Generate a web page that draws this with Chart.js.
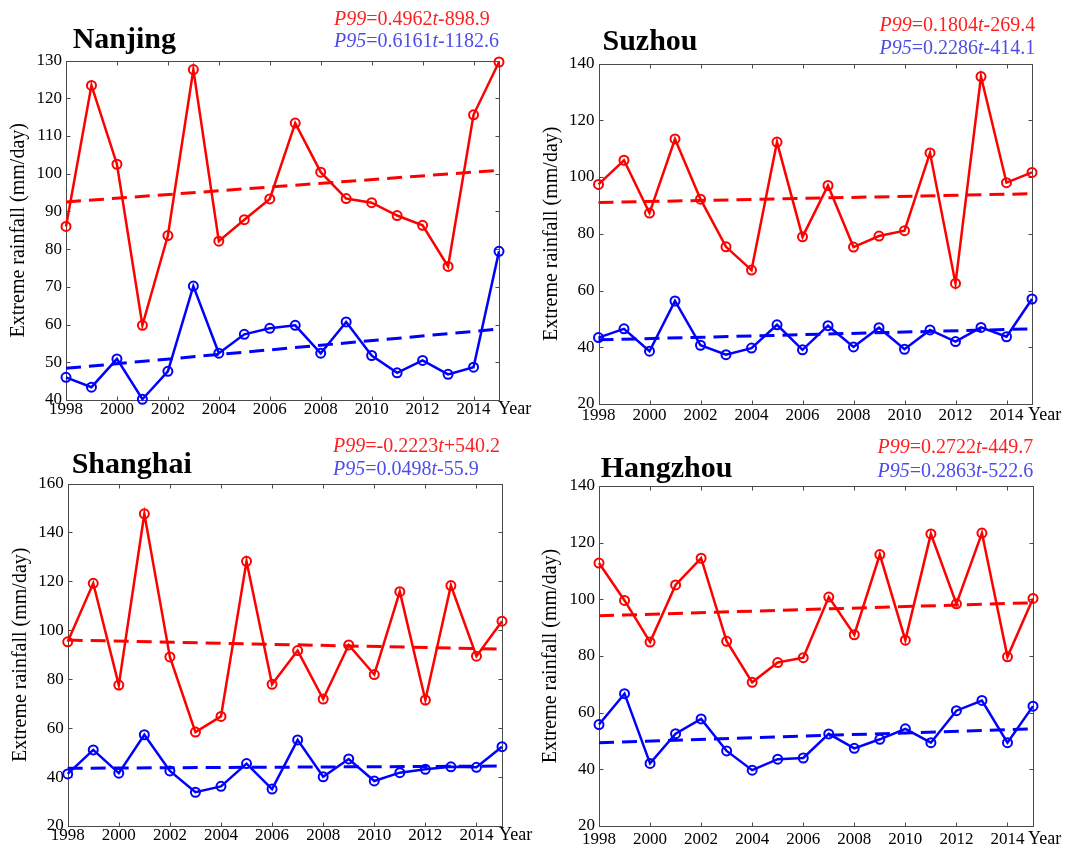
<!DOCTYPE html>
<html><head><meta charset="utf-8">
<script src="https://cdn.jsdelivr.net/npm/chart.js@4.4.1/dist/chart.umd.min.js"></script>
<style>
html,body{margin:0;padding:0;background:#fff;}
#wrap{position:relative;width:1073px;height:852px;overflow:hidden;font-family:"Liberation Serif","Times New Roman",serif;color:#000;}
canvas.pc{position:absolute;}
.txt{position:absolute;white-space:nowrap;line-height:1;}
.ttl{font-weight:bold;font-size:30px;}
.eq{font-size:20px;}
.yr{font-size:18px;}
.red{color:#ff1f1f;} .blue{color:#4d4de8;}
</style></head><body><div id="wrap"></div>
<script>
// ---------------- DATA ----------------
const years = [1998,1999,2000,2001,2002,2003,2004,2005,2006,2007,2008,2009,2010,2011,2012,2013,2014,2015];
const xTickValues = [1998,2000,2002,2004,2006,2008,2010,2012,2014];
const trendYears = [1998,2015];

const nanjingP99 = [86.0,123.4,102.5,59.8,83.6,127.6,82.1,87.8,93.3,113.4,100.4,93.4,92.3,88.9,86.3,75.4,115.6,129.6];
const nanjingP95 = [46.0,43.4,50.9,40.2,47.6,70.2,52.4,57.4,59.0,59.8,52.4,60.7,51.8,47.2,50.5,46.8,48.7,79.4];
const nanjingTrend99 = [92.5,100.9];
const nanjingTrend95 = [48.4,58.8];
const nanjingYTicks = [40,50,60,70,80,90,100,110,120,130];

const suzhouP99 = [97.4,105.9,87.3,113.4,92.2,75.4,67.2,112.3,78.9,97.0,75.3,79.2,81.1,108.5,62.5,135.4,98.0,101.6];
const suzhouP95 = [43.4,46.5,38.6,56.3,40.7,37.4,39.7,47.9,39.1,47.6,40.1,46.9,39.3,46.1,42.0,47.0,43.7,57.0];
const suzhouTrend99 = [91.0,94.1];
const suzhouTrend95 = [42.6,46.5];
const suzhouYTicks = [20,40,60,80,100,120,140];

const shanghaiP99 = [95.3,119.2,77.6,147.6,89.1,58.4,64.8,128.2,77.9,91.7,71.9,94.0,81.9,115.8,71.5,118.3,89.4,103.7];
const shanghaiP95 = [41.3,51.1,41.6,57.3,42.5,33.8,36.2,45.5,35.1,55.2,40.1,47.4,38.4,41.8,43.2,44.2,44.0,52.4];
const shanghaiTrend99 = [96.0,92.3];
const shanghaiTrend95 = [43.6,44.5];
const shanghaiYTicks = [20,40,60,80,100,120,140,160];

const hangzhouP99 = [112.8,99.6,84.9,105.1,114.5,85.2,70.7,77.7,79.4,100.8,87.5,115.8,85.6,123.1,98.4,123.4,79.7,100.3];
const hangzhouP95 = [55.8,66.7,42.1,52.6,57.8,46.5,39.7,43.6,44.0,52.5,47.4,50.6,54.3,49.4,60.7,64.3,49.4,62.3];
const hangzhouTrend99 = [94.2,98.8];
const hangzhouTrend95 = [49.4,54.3];
const hangzhouYTicks = [20,40,60,80,100,120,140];

const cities = ['Nanjing','Suzhou','Shanghai','Hangzhou'];
const eq99 = [['0.4962','-898.9'],['0.1804','-269.4'],['-0.2223','+540.2'],['0.2722','-449.7']];
const eq95 = [['0.6161','-1182.6'],['0.2286','-414.1'],['0.0498','-55.9'],['0.2863','-522.6']];
const yTitle = 'Extreme rainfall (mm/day)';
const xUnit = 'Year';

// ---------------- LAYOUT ----------------
const FONT = '"Liberation Serif","Times New Roman",serif';
const RED = '#ff0000', BLUE = '#0000ff';
const panels = [
  {p99:nanjingP99, p95:nanjingP95, t99:nanjingTrend99, t95:nanjingTrend95, yt:nanjingYTicks,
   cx:0, cy:0, area:{l:66,r:499,t:60.5,b:400}, xPad:-1, yTitlePad:7,
   title:{x:72.7,b:48}, eq:{x:334,b1:25,b2:46.7}, yr:{x:498,b:414}},
  {p99:suzhouP99, p95:suzhouP95, t99:suzhouTrend99, t95:suzhouTrend95, yt:suzhouYTicks,
   cx:536, cy:0, area:{l:62.5,r:496,t:63.5,b:404}, xPad:1, yTitlePad:4,
   title:{x:602.5,b:50}, eq:{x:879.5,b1:30.7,b2:54}, yr:{x:1028,b:420}},
  {p99:shanghaiP99, p95:shanghaiP95, t99:shanghaiTrend99, t95:shanghaiTrend95, yt:shanghaiYTicks,
   cx:0, cy:426, area:{l:67.7,r:502,t:57.5,b:400}, xPad:-1, yTitlePad:9,
   title:{x:71.7,b:473}, eq:{x:333,b1:451.7,b2:475}, yr:{x:499,b:840}},
  {p99:hangzhouP99, p95:hangzhouP95, t99:hangzhouTrend99, t95:hangzhouTrend95, yt:hangzhouYTicks,
   cx:536, cy:426, area:{l:63,r:497,t:60,b:400}, xPad:3, yTitlePad:3,
   title:{x:600.7,b:477}, eq:{x:877.5,b1:453,b2:477}, yr:{x:1028,b:844}}
];
const CW = 536, CH = 426;

const wrap = document.getElementById('wrap');
function addText(cls, html, x, baseline, size){
  const d = document.createElement('div');
  d.className = 'txt ' + cls;
  d.innerHTML = html;
  d.style.left = x + 'px';
  d.style.top = (baseline - 0.8375*size) + 'px';
  wrap.appendChild(d);
}

const framePlugin = {
  id:'frame',
  beforeDatasetsDraw(chart){
    const {ctx, chartArea:a, scales:{x, y}} = chart;
    const L = Math.round(a.left)+0.5, R = Math.round(a.right)+0.5, T = Math.round(a.top)+0.5, B = Math.round(a.bottom)+0.5;
    ctx.save();
    ctx.strokeStyle = '#4a4a4a'; ctx.lineWidth = 1;
    ctx.strokeRect(L, T, R-L, B-T);
    const tl = 4;
    ctx.beginPath();
    x.ticks.forEach(t=>{
      const px = Math.round(x.getPixelForValue(t.value))+0.5;
      ctx.moveTo(px, B); ctx.lineTo(px, B-tl);
      ctx.moveTo(px, T); ctx.lineTo(px, T+tl);
    });
    y.ticks.forEach(t=>{
      const py = Math.round(y.getPixelForValue(t.value))+0.5;
      ctx.moveTo(L, py); ctx.lineTo(L+tl, py);
      ctx.moveTo(R, py); ctx.lineTo(R-tl, py);
    });
    ctx.stroke();
    ctx.restore();
  }
};

function pts(xs, ys){ return xs.map((v,i)=>({x:v, y:ys[i]})); }

panels.forEach((p, i)=>{
  const cv = document.createElement('canvas');
  cv.className = 'pc';
  cv.width = CW; cv.height = CH;
  cv.style.left = p.cx + 'px'; cv.style.top = p.cy + 'px';
  cv.style.width = CW + 'px'; cv.style.height = CH + 'px';
  wrap.appendChild(cv);
  const a = p.area;
  const series = (data, col) => ({
    data, borderColor:col, borderWidth:2.5, pointStyle:'circle', pointRadius:4.5,
    pointBorderWidth:2, pointBorderColor:col, pointBackgroundColor:'rgba(0,0,0,0)',
    tension:0, clip:false, order:1
  });
  const trend = (data, col) => ({
    data, borderColor:col, borderWidth:3, borderDash:[15,8], pointRadius:0, tension:0, clip:false, order:2
  });
  new Chart(cv.getContext('2d'), {
    type:'line',
    data:{datasets:[
      series(pts(years, p.p99), RED),
      series(pts(years, p.p95), BLUE),
      trend(pts(trendYears, p.t99), RED),
      trend(pts(trendYears, p.t95), BLUE)
    ]},
    options:{
      responsive:false, animation:false, devicePixelRatio:1,
      layout:{padding:{left:0, top:a.t, right:CW-a.r, bottom:0}},
      plugins:{legend:{display:false}, tooltip:{enabled:false}},
      scales:{
        x:{type:'linear', min:years[0], max:years[years.length-1],
           grid:{display:false, drawTicks:false}, border:{display:false},
           afterBuildTicks:s=>{ s.ticks = xTickValues.map(v=>({value:v})); },
           afterFit:s=>{ s.height = CH - a.b; },
           ticks:{padding:p.xPad, color:'#000', font:{family:FONT, size:17}, maxRotation:0, autoSkip:false,
                  callback:v=>String(v)}},
        y:{type:'linear', min:p.yt[0], max:p.yt[p.yt.length-1],
           grid:{display:false, drawTicks:false}, border:{display:false},
           afterBuildTicks:s=>{ s.ticks = p.yt.map(v=>({value:v})); },
           afterFit:s=>{ s.width = a.l; },
           title:{display:true, text:yTitle, color:'#000', font:{family:FONT, size:20}, padding:{top:p.yTitlePad, bottom:0}},
           ticks:{padding:4, color:'#000', font:{family:FONT, size:17}, callback:v=>String(v)}}
      }
    },
    plugins:[framePlugin]
  });
  addText('ttl', cities[i], p.title.x, p.title.b, 30);
  addText('eq red', '<i>P99</i>=' + eq99[i][0] + '<i>t</i>' + eq99[i][1], p.eq.x, p.eq.b1, 20);
  addText('eq blue', '<i>P95</i>=' + eq95[i][0] + '<i>t</i>' + eq95[i][1], p.eq.x, p.eq.b2, 20);
  addText('yr', xUnit, p.yr.x, p.yr.b, 18);
});
</script></body></html>
